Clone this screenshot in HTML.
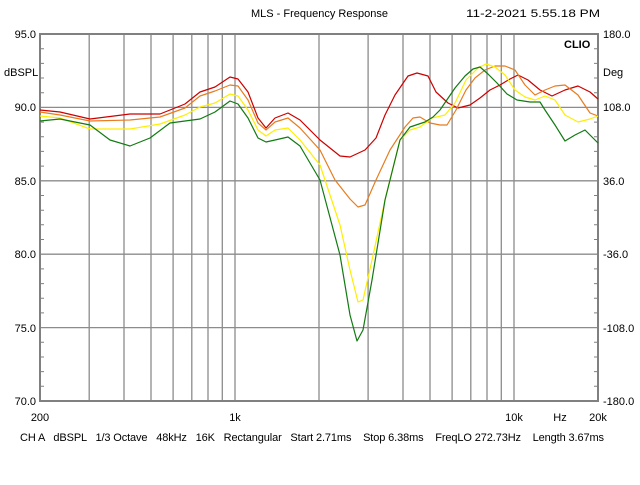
<!DOCTYPE html>
<html><head><style>
body{margin:0;background:#fff;}
svg text{font-family:"Liberation Sans",sans-serif;font-size:11px;fill:#000;}
</style></head><body>
<svg width="640" height="480" xmlns="http://www.w3.org/2000/svg">
<rect width="640" height="480" fill="#fff"/>
<g stroke="#8c8c8c" stroke-width="1.3">
<line x1="40" y1="107.4" x2="598" y2="107.4"/>
<line x1="40" y1="180.8" x2="598" y2="180.8"/>
<line x1="40" y1="254.2" x2="598" y2="254.2"/>
<line x1="40" y1="327.6" x2="598" y2="327.6"/>
<line x1="89.2" y1="34" x2="89.2" y2="401"/>
<line x1="124" y1="34" x2="124" y2="401"/>
<line x1="151" y1="34" x2="151" y2="401"/>
<line x1="173.1" y1="34" x2="173.1" y2="401"/>
<line x1="191.8" y1="34" x2="191.8" y2="401"/>
<line x1="208" y1="34" x2="208" y2="401"/>
<line x1="222.3" y1="34" x2="222.3" y2="401"/>
<line x1="235" y1="34" x2="235" y2="401"/>
<line x1="319" y1="34" x2="319" y2="401"/>
<line x1="368.1" y1="34" x2="368.1" y2="401"/>
<line x1="403" y1="34" x2="403" y2="401"/>
<line x1="430" y1="34" x2="430" y2="401"/>
<line x1="452.1" y1="34" x2="452.1" y2="401"/>
<line x1="470.8" y1="34" x2="470.8" y2="401"/>
<line x1="487" y1="34" x2="487" y2="401"/>
<line x1="501.3" y1="34" x2="501.3" y2="401"/>
<line x1="514" y1="34" x2="514" y2="401"/>
</g>
<rect x="40" y="34" width="558" height="367" fill="none" stroke="#808080" stroke-width="2"/>
<g stroke="#808080" stroke-width="1">
<path d="M40 48.7h4M40 63.4h4M40 78.0h4M40 92.7h4M40 122.1h4M40 136.8h4M40 151.4h4M40 166.1h4M40 195.5h4M40 210.2h4M40 224.8h4M40 239.5h4M40 268.9h4M40 283.6h4M40 298.2h4M40 312.9h4M40 342.3h4M40 357h4M40 371.6h4M40 386.3h4"/>
<path d="M598 48.7h-4M598 63.4h-4M598 78.0h-4M598 92.7h-4M598 122.1h-4M598 136.8h-4M598 151.4h-4M598 166.1h-4M598 195.5h-4M598 210.2h-4M598 224.8h-4M598 239.5h-4M598 268.9h-4M598 283.6h-4M598 298.2h-4M598 312.9h-4M598 342.3h-4M598 357h-4M598 371.6h-4M598 386.3h-4"/>
</g>
<g fill="none" stroke-width="1.2" stroke-linejoin="round">
<polyline stroke="#cc0000" points="40,110 60,112 90,119 130,114 160,114 185,104 200,92 215,87 230,77 238,79 248,92 258,118 266,128 275,118 288,113 300,120 320,140 340,156 350,157 365,150 376,138 385,115 395,95 408,76 417,73 428,76 436,92 448,103 458,108 470,105 480,98 490,90 500,85 510,79 518,75 528,80 540,90 552,96 565,90 578,86 590,92 598,99"/>
<polyline stroke="#e87c1e" points="40,112 60,115 90,121 130,120 160,117 185,108 200,96 215,91 230,85 238,86 248,100 258,123 266,130 275,122 288,118 300,128 320,150 335,180 350,199 358,207 365,205 376,180 390,150 405,127 413,118 420,117 430,123 440,125 447,125 456,110 466,90 475,78 485,70 495,66 505,66 515,70 525,85 535,95 545,90 555,86 565,85 578,95 590,113 598,116"/>
<polyline stroke="#ffee00" points="40,116 60,118 90,129 130,129 160,124 185,115 200,107 215,103 230,94 238,96 248,110 258,130 266,136 275,130 288,128 300,140 320,165 340,225 350,270 358,302 363,300 372,260 385,200 400,140 410,130 420,127 432,118 445,115 455,103 466,80 478,68 486,64 495,67 505,75 515,90 525,97 535,100 545,96 555,100 565,115 578,122 590,119 598,116"/>
<polyline stroke="#117a11" points="40,121 60,119 90,125 110,140 130,146 150,138 170,123 200,119 215,112 230,101 238,104 248,118 258,138 266,142 275,140 288,137 300,146 320,180 340,255 350,315 357,341 363,330 372,280 385,200 400,140 410,127 425,122 433,117 440,110 455,88 465,76 473,69 480,67 488,74 497,83 507,94 517,100 530,102 540,102 545,110 555,125 565,141 575,135 585,130 598,143"/>
</g>
<text x="251" y="17">MLS - Frequency Response</text>
<text x="466" y="17" textLength="134" lengthAdjust="spacingAndGlyphs">11-2-2021 5.55.18 PM</text>
<text x="564" y="48" style="font-weight:bold">CLIO</text>
<text x="36" y="38" text-anchor="end">95.0</text>
<text x="4" y="76">dBSPL</text>
<text x="36" y="111" text-anchor="end">90.0</text>
<text x="36" y="185" text-anchor="end">85.0</text>
<text x="36" y="258" text-anchor="end">80.0</text>
<text x="36" y="332" text-anchor="end">75.0</text>
<text x="36" y="405" text-anchor="end">70.0</text>
<text x="603" y="38">180.0</text>
<text x="603" y="76">Deg</text>
<text x="603" y="111">108.0</text>
<text x="603" y="185">36.0</text>
<text x="603" y="258">-36.0</text>
<text x="603" y="332">-108.0</text>
<text x="603" y="405">-180.0</text>
<text x="40" y="421" text-anchor="middle">200</text>
<text x="235" y="421" text-anchor="middle">1k</text>
<text x="514" y="421" text-anchor="middle">10k</text>
<text x="560" y="421" text-anchor="middle">Hz</text>
<text x="598" y="421" text-anchor="middle">20k</text>
<text x="20" y="441" xml:space="preserve" textLength="584" lengthAdjust="spacing">CH A   dBSPL   1/3 Octave   48kHz   16K   Rectangular   Start 2.71ms    Stop 6.38ms    FreqLO 272.73Hz    Length 3.67ms</text>
</svg>
</body></html>
